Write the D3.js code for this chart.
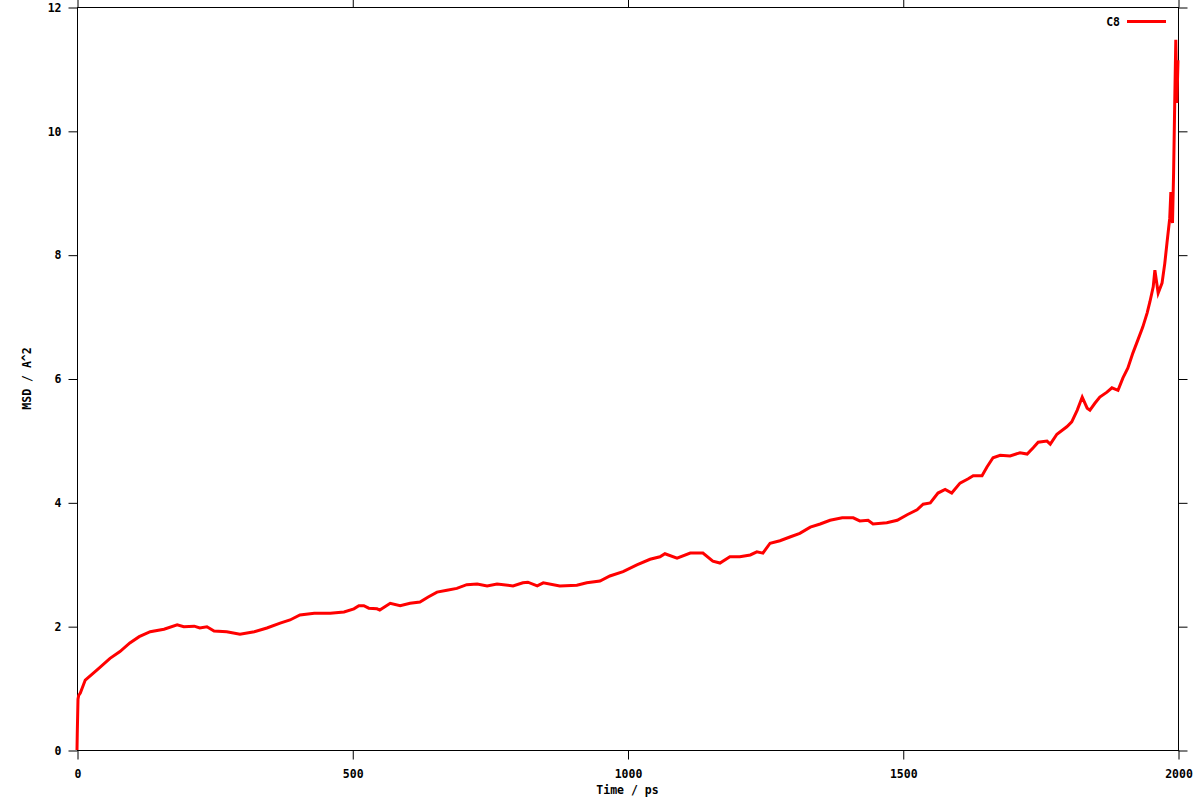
<!DOCTYPE html>
<html>
<head>
<meta charset="utf-8">
<script src="https://cdn.jsdelivr.net/npm/d3@7/dist/d3.min.js"></script>
<style>
  html, body { margin: 0; padding: 0; background: #fff; }
  svg { display: block; }
  text { font-family: "DejaVu Sans Mono", "Liberation Mono", monospace; font-weight: bold; font-size: 11.5px; fill: #000; }
</style>
</head>
<body>
<svg id="chart" width="1200" height="800"></svg>
<script>
// ---- data ----
const seriesName = "C8";
const timePs = [0, 0.5, 1.8, 3, 6, 15, 36, 60, 78, 96, 113, 133, 158, 182, 194, 213, 223, 236, 249, 272, 296, 322, 345, 369, 387, 405, 431, 460, 485, 503, 512, 521, 530, 545, 550, 569, 587, 605, 623, 638, 654, 672, 690, 708, 727, 745, 763, 792, 810, 819, 836, 847, 877, 908, 926, 950, 968, 992, 1017, 1041, 1059, 1068, 1090, 1114, 1137, 1155, 1168, 1186, 1204, 1223, 1235, 1246, 1259, 1277, 1295, 1313, 1332, 1350, 1368, 1390, 1410, 1422, 1437, 1446, 1471, 1490, 1508, 1526, 1537, 1550, 1564, 1577, 1589, 1604, 1619, 1628, 1644, 1653, 1664, 1677, 1695, 1713, 1726, 1737, 1746, 1762, 1768, 1780, 1798, 1807, 1817, 1826, 1835, 1840, 1849, 1858, 1871, 1880, 1891, 1900, 1909, 1918, 1927, 1936, 1944, 1949, 1955, 1958, 1964, 1971, 1976, 1980, 1985, 1987, 1990, 1992, 1994, 1996, 1998, 2000];
const msd = [0, 0.27, 0.82, 0.88, 0.92, 1.13, 1.29, 1.48, 1.59, 1.73, 1.83, 1.91, 1.95, 2.02, 1.99, 2.00, 1.97, 1.99, 1.92, 1.91, 1.87, 1.91, 1.97, 2.05, 2.10, 2.18, 2.21, 2.21, 2.23, 2.28, 2.33, 2.33, 2.29, 2.28, 2.26, 2.37, 2.33, 2.37, 2.39, 2.47, 2.55, 2.58, 2.61, 2.67, 2.68, 2.65, 2.68, 2.65, 2.70, 2.71, 2.65, 2.70, 2.65, 2.66, 2.70, 2.73, 2.81, 2.88, 2.99, 3.08, 3.12, 3.17, 3.10, 3.18, 3.18, 3.05, 3.02, 3.12, 3.12, 3.15, 3.20, 3.18, 3.34, 3.38, 3.44, 3.50, 3.60, 3.65, 3.71, 3.75, 3.75, 3.70, 3.71, 3.65, 3.67, 3.71, 3.80, 3.88, 3.97, 3.99, 4.15, 4.21, 4.15, 4.31, 4.38, 4.43, 4.43, 4.57, 4.72, 4.76, 4.75, 4.80, 4.78, 4.88, 4.97, 4.99, 4.94, 5.10, 5.22, 5.30, 5.49, 5.70, 5.52, 5.49, 5.60, 5.70, 5.78, 5.85, 5.81, 6.01, 6.17, 6.41, 6.62, 6.83, 7.06, 7.24, 7.48, 7.75, 7.38, 7.54, 7.86, 8.19, 8.59, 9.01, 8.51, 9.32, 10.42, 11.47, 10.45, 11.14];
const xTicks = [0, 500, 1000, 1500, 2000];
const yTicks = [0, 2, 4, 6, 8, 10, 12];
const xLabel = "Time / ps";
const yLabel = "MSD / A^2";

// ---- layout ----
const plotL = 77, plotR = 1178, plotT = 7, plotB = 750;
const svg = d3.select("#chart");
const x = d3.scaleLinear().domain([0, 2000]).range([plotL, plotR]);
const y = d3.scaleLinear().domain([0, 12]).range([plotB, plotT]);

function styleAxis(g) {
  g.select(".domain").remove();
  g.selectAll(".tick line").attr("stroke", "#000").attr("stroke-width", 1);
  g.selectAll("text").attr("font-family", null).attr("font-size", null).attr("fill", "#000");
}

// bottom axis
svg.append("g").attr("transform", `translate(0.5,${plotB + 0.5})`)
  .call(d3.axisBottom(x).tickValues(xTicks).tickSize(9).tickSizeOuter(0).tickPadding(10).tickFormat(d3.format("d")))
  .call(styleAxis);
// top axis (mirror ticks)
svg.append("g").attr("transform", `translate(0.5,${plotT + 0.5})`)
  .call(d3.axisTop(x).tickValues(xTicks).tickSize(9).tickSizeOuter(0).tickFormat(""))
  .call(styleAxis);
// left axis
svg.append("g").attr("transform", `translate(${plotL + 0.5},0.5)`)
  .call(d3.axisLeft(y).tickValues(yTicks).tickSize(9).tickSizeOuter(0).tickPadding(7).tickFormat(d3.format("d")))
  .call(styleAxis);
// right axis (mirror ticks)
svg.append("g").attr("transform", `translate(${plotR + 0.5},0.5)`)
  .call(d3.axisRight(y).tickValues(yTicks).tickSize(9).tickSizeOuter(0).tickFormat(""))
  .call(styleAxis);

// frame
svg.append("rect")
  .attr("x", plotL + 0.5).attr("y", plotT + 0.5)
  .attr("width", plotR - plotL).attr("height", plotB - plotT)
  .attr("fill", "none").attr("stroke", "#000").attr("stroke-width", 1);

// line
const data = timePs.map((t, i) => [t, msd[i]]);
svg.append("path")
  .datum(data)
  .attr("fill", "none")
  .attr("stroke", "#ff0000")
  .attr("stroke-width", 3)
  .attr("stroke-linejoin", "miter")
  .attr("d", d3.line().x(d => x(d[0])).y(d => y(d[1])));

// axis titles
svg.append("text")
  .attr("x", (plotL + plotR) / 2).attr("y", 794)
  .attr("text-anchor", "middle").text(xLabel);
svg.append("text")
  .attr("transform", `translate(31,${(plotT + plotB) / 2}) rotate(-90)`)
  .attr("text-anchor", "middle").text(yLabel);

// legend
svg.append("text")
  .attr("x", 1120).attr("y", 26)
  .attr("text-anchor", "end").text(seriesName);
svg.append("line")
  .attr("x1", 1127).attr("x2", 1166).attr("y1", 21.5).attr("y2", 21.5)
  .attr("stroke", "#ff0000").attr("stroke-width", 3);
</script>
</body>
</html>
